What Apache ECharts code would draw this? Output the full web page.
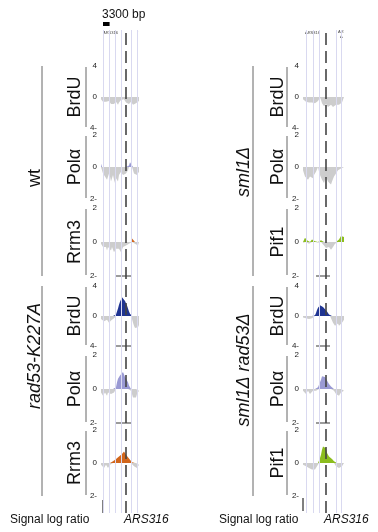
<!DOCTYPE html>
<html>
<head>
<meta charset="utf-8">
<script src="https://cdn.jsdelivr.net/npm/echarts@6/dist/echarts.min.js"></script>
<style>
  html, body { margin: 0; padding: 0; background: #fff; }
  #chart { width: 378px; height: 532px; }
</style>
</head>
<body>
<div id="chart"></div>
<script>
// 基因组位置 (kb)
const posLeft = [0,0.5,1,1.5,2,2.5,3,3.5,4,4.5,5,5.5,6,6.5,7,7.5,8,8.5,9,9.5,10,10.5,11,11.5,12,12.5,13,13.5,14,14.5,15,15.5,16,16.5,17,17.5,18,18.5,19];
const posRight = [0,0.5,1,1.5,2,2.5,3,3.5,4,4.5,5,5.5,6,6.5,7,7.5,8,8.5,9,9.5,10,10.5,11,11.5,12,12.5,13,13.5,14,14.5,15,15.5,16,16.5,17,17.5,18,18.5,19,19.5,20,20.5];

// ARS316 位置、参考线、比例尺
const arsLeft = 12.5;
const arsRight = 11.5;
const guideLeft = [1.2, 4.2, 7, 10, 15, 18.2];
const guideRight = [1.5, 5, 8, 16.5, 19];
const scaleStart = 1.0;
const scaleKb = 3.3;
const tickLeft = [7.5, 15];
const tickRight = [6.5, 13.5];

// 行标签与量程
const groupLeft = ['wt', 'rad53-K227A'];
const groupRight = ['sml1Δ', 'sml1Δ rad53Δ'];
const rowLeft = ['BrdU', 'Polα', 'Rrm3', 'BrdU', 'Polα', 'Rrm3'];
const rowRight = ['BrdU', 'Polα', 'Pif1', 'BrdU', 'Polα', 'Pif1'];
const rowRange = [4, 2, 2, 4, 2, 2];

// Signal log ratio — 左列 (wt / rad53-K227A)
const wtBrdU = [-0.3,-0.5,-0.6,-0.5,-0.7,-0.6,-0.8,-0.6,-0.5,-0.7,-0.9,-0.8,-1.0,-0.9,-0.7,-0.6,-0.8,-1.0,-0.7,-0.5,-0.4,-0.3,-0.2,-0.3,-0.5,-0.7,-0.6,-0.8,-0.9,-0.7,-0.6,-0.8,-1.0,-1.1,-0.9,-0.8,-0.7,-0.6,-0.5];
const wtPola = [0.2,-0.2,-0.4,-0.3,-0.6,-0.5,-0.8,-0.7,-0.4,-0.6,-0.9,-0.7,-0.5,-0.8,-1.0,-0.7,-0.6,-0.9,-0.5,-0.4,-0.3,-0.4,-0.5,-0.6,-0.5,-0.4,-0.3,-0.2,0.1,0.3,0.35,0.2,-0.2,-0.4,-0.5,-0.3,-0.5,-0.4,-0.3];
const wtRrm3 = [-0.1,-0.2,-0.3,-0.2,-0.4,-0.3,-0.5,-0.3,-0.2,-0.4,-0.5,-0.3,-0.4,-0.6,-0.5,-0.4,-0.3,-0.5,-0.4,-0.3,-0.6,-0.5,-0.3,-0.2,-0.3,-0.2,-0.1,-0.2,-0.1,-0.1,0.0,0.2,0.3,0.1,-0.1,-0.2,-0.1,-0.2,-0.1];
const radBrdU = [-0.4,-0.6,-0.5,-0.7,-0.8,-0.6,-0.5,-0.7,-0.9,-0.8,-0.6,-0.5,-0.4,-0.3,-0.1,0.2,0.6,1.0,1.5,1.9,2.2,2.5,2.6,2.4,2.0,1.7,1.4,1.0,0.6,0.3,0.1,-0.4,-0.9,-1.3,-1.6,-1.8,-1.7,-1.5,-1.2];
const radPola = [-0.2,-0.3,-0.4,-0.3,-0.2,-0.3,-0.4,-0.2,-0.3,-0.2,-0.3,-0.4,-0.3,-0.2,-0.1,0.1,0.4,0.6,0.7,0.8,0.75,0.9,1.0,0.85,0.7,0.8,0.6,0.4,0.2,0.1,-0.1,-0.3,-0.5,-0.6,-0.4,-0.5,-0.3,-0.2,-0.1];
const radRrm3 = [-0.1,-0.2,-0.2,-0.3,-0.2,-0.1,-0.2,-0.3,-0.2,-0.1,-0.1,0.0,0.1,0.15,0.2,0.25,0.3,0.35,0.4,0.45,0.5,0.55,0.6,0.7,0.6,0.5,0.45,0.35,0.3,0.2,0.1,0.05,-0.1,-0.2,-0.3,-0.25,-0.3,-0.2,-0.1];

// Signal log ratio — 右列 (sml1Δ / sml1Δ rad53Δ)
const smlBrdU = [-0.3,-0.4,-0.5,-0.6,-0.5,-0.6,-0.7,-0.6,-0.8,-0.7,-0.6,-0.7,-0.8,-0.9,-0.7,-0.5,-0.3,-0.05,-0.4,-0.8,-1.0,-1.2,-1.1,-0.9,-1.0,-1.3,-1.4,-1.2,-1.0,-1.1,-1.3,-1.5,-1.2,-1.0,-0.9,-1.1,-1.0,-0.8,-0.9,-0.7,-0.6,-0.5];
const smlPola = [-0.2,-0.4,-0.6,-0.7,-0.6,-0.8,-0.7,-0.6,-0.5,-0.6,-0.7,-0.5,-0.4,-0.3,-0.2,0.0,-0.3,-0.5,-0.6,-0.8,-0.9,-1.0,-0.8,-0.6,-0.7,-0.9,-1.0,-0.9,-1.1,-0.9,-0.8,-0.6,-0.5,-0.4,-0.3,-0.2,-0.3,-0.2,-0.1,0.1,0.2,0.1];
const smlPif1 = [-0.05,0.1,0.25,0.3,0.1,-0.05,-0.1,-0.05,0.05,0.15,0.2,0.2,0.05,-0.05,-0.1,-0.05,0.0,0.05,0.1,0.05,-0.1,-0.2,-0.3,-0.35,-0.4,-0.35,-0.3,-0.4,-0.45,-0.35,-0.3,-0.2,-0.1,-0.05,0.0,0.05,0.15,0.25,0.35,0.4,0.35,0.3];
const smlRadBrdU = [-0.2,-0.3,-0.4,-0.3,-0.2,-0.3,-0.4,-0.3,-0.2,-0.3,-0.2,-0.1,0.1,0.4,0.8,1.1,1.3,1.45,1.5,1.4,1.2,1.0,0.9,0.8,0.6,0.4,0.2,0.05,-0.3,-0.6,-0.9,-1.1,-1.3,-1.4,-1.2,-1.0,-1.3,-1.4,-1.1,-0.9,-0.7,-0.5];
const smlRadPola = [-0.1,-0.2,-0.2,-0.3,-0.2,-0.1,-0.2,-0.3,-0.2,-0.2,-0.1,-0.2,-0.1,-0.1,0.0,0.1,0.2,0.4,0.55,0.75,0.85,0.8,0.7,0.6,0.5,0.4,0.3,0.2,0.15,0.1,0.05,-0.1,-0.2,-0.3,-0.2,-0.3,-0.4,-0.3,-0.2,-0.3,-0.2,-0.1];
const smlRadPif1 = [-0.1,-0.1,-0.15,-0.2,-0.2,-0.25,-0.3,-0.3,-0.35,-0.4,-0.4,-0.45,-0.4,-0.3,-0.2,-0.1,0.1,0.3,0.5,0.8,1.0,1.1,1.05,0.9,0.6,0.5,0.4,0.35,0.3,0.25,0.2,0.1,-0.1,-0.2,-0.3,-0.25,-0.3,-0.35,-0.3,-0.2,-0.2,-0.1];

const NAVY = '#1f3492', PURPLE = '#9a9ad4', ORANGE = '#d2661c', GREEN = '#8cbd1e', GREY = '#cdcdcd';
const FONT = 'Liberation Sans, Arial, sans-serif';

// 布局
const rowTop = [66, 135, 208, 286, 355, 430];
const rowH = [62, 64, 68, 60, 68, 66];
const cols = [
  { left: 101, width: 38, pos: posLeft, max: 19, ars: arsLeft, guides: guideLeft, tick: tickLeft,
    panels: [wtBrdU, wtPola, wtRrm3, radBrdU, radPola, radRrm3],
    colors: [NAVY, PURPLE, ORANGE, NAVY, PURPLE, ORANGE],
    rows: rowLeft, rowX: 75.5, lineX: 86, groups: groupLeft, groupX: 35, groupLineX: 42,
    groupY: [178, 356] },
  { left: 303, width: 41, pos: posRight, max: 20.5, ars: arsRight, guides: guideRight, tick: tickRight,
    panels: [smlBrdU, smlPola, smlPif1, smlRadBrdU, smlRadPola, smlRadPif1],
    colors: [NAVY, PURPLE, GREEN, NAVY, PURPLE, GREEN],
    rows: rowRight, rowX: 278, lineX: 287, groups: groupRight, groupX: 244, groupLineX: 253,
    groupY: [172, 370] }
];

const grid = [], xAxis = [], yAxis = [], series = [], graphic = [];

cols.forEach((c, ci) => {
  c.panels.forEach((vals, ri) => {
    const gi = grid.length;
    const r = rowRange[ri];
    grid.push({ left: c.left, width: c.width, top: rowTop[ri], height: rowH[ri] });
    xAxis.push({ type: 'value', gridIndex: gi, min: 0, max: c.max, show: false });
    yAxis.push({
      type: 'value', gridIndex: gi, min: -r, max: r, interval: r,
      axisLine: { show: false }, axisTick: { show: false }, splitLine: { show: false },
      axisLabel: {
        fontSize: 8, color: '#222', margin: 4, fontFamily: FONT,
        formatter: v => (v < 0 ? Math.abs(v) + '-' : String(v))
      }
    });
    // 负值部分 (灰色)
    series.push({
      type: 'line', xAxisIndex: gi, yAxisIndex: gi, z: 3, silent: true,
      showSymbol: false, symbol: 'none', lineStyle: { width: 0 },
      areaStyle: { color: GREY, opacity: 1 },
      data: c.pos.map((p, i) => [p, Math.min(vals[i], 0)])
    });
    // 正值部分 (彩色)
    const s = {
      type: 'line', xAxisIndex: gi, yAxisIndex: gi, z: 4, silent: true, clip: false,
      showSymbol: false, symbol: 'none', lineStyle: { width: 0 },
      areaStyle: { color: c.colors[ri], opacity: 1 },
      data: c.pos.map((p, i) => [p, Math.max(vals[i], 0)])
    };
    if (ri >= 2 && ri <= 4) {
      s.markLine = {
        silent: true, symbol: ['none', 'none'], label: { show: false },
        lineStyle: { color: '#7a7a7a', width: 1.5, type: 'solid' },
        data: [[{ coord: [c.tick[0], -r] }, { coord: [c.tick[1], -r] }]]
      };
    }
    series.push(s);

    // 行标签 + 竖线
    graphic.push({
      type: 'text', x: c.rowX, y: rowTop[ri] + rowH[ri] / 2, rotation: Math.PI / 2,
      style: { text: c.rows[ri], fontSize: 18, fontFamily: FONT, fill: '#111', align: 'center', verticalAlign: 'middle' }
    });
    graphic.push({
      type: 'line', shape: { x1: c.lineX, y1: rowTop[ri] + 1, x2: c.lineX, y2: rowTop[ri] + rowH[ri] - 1 },
      style: { stroke: '#666', lineWidth: 1 }
    });
  });

  // 分组标签
  c.groups.forEach((g, k) => {
    const t = rowTop[k * 3], b = rowTop[k * 3 + 2] + rowH[k * 3 + 2];
    graphic.push({
      type: 'text', x: c.groupX, y: c.groupY[k], rotation: Math.PI / 2,
      style: { text: g, fontSize: 18, fontFamily: FONT, fontStyle: g === 'wt' ? 'normal' : 'italic',
        fill: '#111', align: 'center', verticalAlign: 'middle' }
    });
    graphic.push({
      type: 'line', shape: { x1: c.groupLineX, y1: t, x2: c.groupLineX, y2: b },
      style: { stroke: '#666', lineWidth: 1 }
    });
  });

  // 贯穿全图的参考线 + ARS316 虚线
  const gi = grid.length;
  grid.push({ left: c.left, width: c.width, top: 30, bottom: 19 });
  xAxis.push({ type: 'value', gridIndex: gi, min: 0, max: c.max, show: false });
  yAxis.push({ type: 'value', gridIndex: gi, min: 0, max: 1, show: false });
  series.push({
    type: 'line', xAxisIndex: gi, yAxisIndex: gi, z: 1, silent: true, data: [],
    markLine: {
      silent: true, symbol: ['none', 'none'], label: { show: false }, animation: false,
      data: c.guides.map(x => ({ xAxis: x, lineStyle: { color: '#d9d9f0', width: 1, type: 'solid' } }))
        .concat([{ xAxis: c.ars, lineStyle: { color: '#444', width: 1.6, type: [12, 6] } }])
    }
  });

  // 比例尺 (仅左列)
  if (ci === 0) {
    const hi = grid.length;
    grid.push({ left: c.left, width: c.width, top: 22, height: 4 });
    xAxis.push({ type: 'value', gridIndex: hi, min: 0, max: c.max, show: false });
    yAxis.push({ type: 'value', gridIndex: hi, min: 0, max: 1, show: false });
    series.push({
      type: 'line', xAxisIndex: hi, yAxisIndex: hi, silent: true, data: [],
      markArea: {
        silent: true, itemStyle: { color: '#000' },
        data: [[{ coord: [scaleStart, 0] }, { coord: [scaleStart + scaleKb, 1] }]]
      }
    });
  }
});

// 其它文字
const txt = (text, x, y, opt) => graphic.push({
  type: 'text', x, y,
  style: Object.assign({ text, fontSize: 12, fontFamily: FONT, fill: '#111', align: 'left', verticalAlign: 'middle' }, opt)
});
txt('3300 bp', 102, 15, { fontSize: 12 });
txt('ARS316', 103, 33, { fontSize: 4, fill: '#444' });
txt('/', 137, 33, { fontSize: 4, fill: '#444' });
txt('ARS316', 305, 33, { fontSize: 4, fill: '#444' });
txt('AR', 338, 32, { fontSize: 4, fill: '#444' });
txt('A', 340, 37, { fontSize: 4, fill: '#444' });
txt('Signal log ratio', 10, 520, { fontSize: 12 });
txt('Signal log ratio', 219, 520, { fontSize: 12 });
txt('ARS316', 124, 520, { fontSize: 12, fontStyle: 'italic' });
txt('ARS316', 324, 520, { fontSize: 12, fontStyle: 'italic' });
graphic.push({ type: 'line', shape: { x1: 103, y1: 500, x2: 103, y2: 513 }, style: { stroke: '#000', lineWidth: 1 } });
graphic.push({ type: 'line', shape: { x1: 303, y1: 498, x2: 303, y2: 511 }, style: { stroke: '#000', lineWidth: 1 } });

const chart = echarts.init(document.getElementById('chart'));
chart.setOption({
  animation: false,
  backgroundColor: '#fff',
  grid, xAxis, yAxis, series, graphic
});
</script>
</body>
</html>
